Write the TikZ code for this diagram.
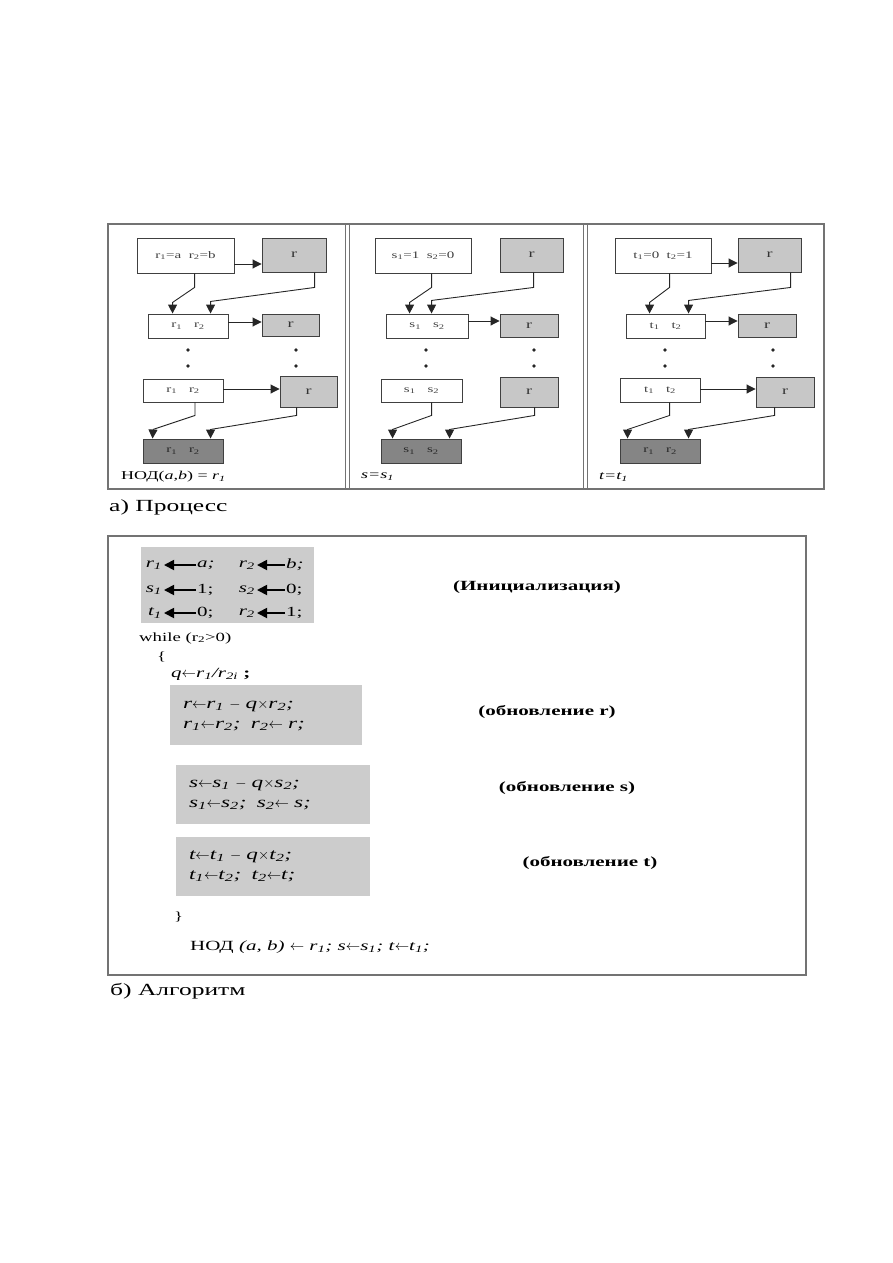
\documentclass[tikz,border=0pt]{standalone}
\usepackage{fontspec}
\setmainfont{Liberation Serif}[FakeStretch=1.5]
\usetikzlibrary{arrows.meta,positioning,calc}
\tikzstyle{valbox} = [rectangle, draw=black!75, line width=0.9pt, fill=white, text=black!75, font=\fontsize{10}{12}\selectfont, inner sep=0pt]
\tikzstyle{rbox} = [rectangle, draw=black!75, line width=0.9pt, fill=black!22, text=black!80, font=\fontsize{12}{14}\selectfont, inner sep=0pt]
\tikzstyle{resbox} = [valbox, fill=black!48, text=black!85]
\tikzstyle{flow} = [-{Triangle[length=9pt,width=9pt]}, line width=0.9pt, black!85]
\tikzstyle{frame} = [draw=black!55, line width=1.6pt]
\tikzstyle{codebox} = [rectangle, fill=black!20, align=left, inner xsep=13pt, font=\fontsize{15.5}{20}\selectfont\itshape]
\tikzstyle{initvar} = [inner sep=1pt, font=\fontsize{14}{16}\selectfont\itshape]
\tikzstyle{initarrow} = [-{Triangle[length=10pt,width=10pt]}, line width=1.8pt, shorten >=1pt]
\tikzstyle{note} = [font=\fontsize{14}{16}\selectfont\bfseries]
\tikzstyle{plain} = [anchor=west, inner sep=0pt, font=\fontsize{12.5}{14}\selectfont]
\tikzstyle{caption} = [anchor=west, inner sep=0pt, font=\fontsize{17}{19}\selectfont]
\tikzstyle{panellabel} = [anchor=west, inner sep=0pt, font=\fontsize{12}{14}\selectfont]
\tikzset{sz/.style 2 args={minimum width=#1pt, minimum height=#2pt}}
\newcommand{\idx}[1]{\textsubscript{#1}}
\newcommand{\lar}{$\leftarrow$}

\begin{document}
\begin{tikzpicture}[x=1pt, y=-1pt]
\useasboundingbox (0,0) rectangle (893,1263);

% ---------- a) process ----------
\draw[frame] (108,224) rectangle (824,489);
\draw[frame, line width=1pt] (345,224) -- (345,489) (349,224) -- (349,489);
\draw[frame, line width=1pt] (583,224) -- (583,489) (587,224) -- (587,489);

% panel r
\node[valbox, sz={97}{35}] (p1init) at (185.5,255.5) {r\idx{1}=a\ \ r\idx{2}=b};
\node[rbox, sz={64}{34}] (p1rA) at (294,255) {r};
\node[valbox, sz={80}{24}] (p1b) at (188,326) {r\idx{1}\hspace{12pt}r\idx{2}};
\node[rbox, sz={57}{22}] (p1rB) at (290.5,325) {r};
\node[valbox, sz={80}{23}] (p1c) at (183,390.5) {r\idx{1}\hspace{12pt}r\idx{2}};
\node[rbox, sz={57}{31}] (p1rC) at (308.5,391.5) {r};
\node[resbox, sz={80}{24}] (p1end) at (183,451) {r\idx{1}\hspace{12pt}r\idx{2}};
\node[panellabel] (p1lab) at (121,477) {НОД(\textit{a,b}) = \textit{r\idx{1}}};

\draw[flow] (p1init.east |- 0,264) -- (p1rA.west |- 0,264);
\draw[flow] (p1b.east |- 0,322) -- (p1rB.west |- 0,322);
\draw[flow] (p1c.east |- 0,389) -- (p1rC.west |- 0,389);
\draw[flow] ([xshift=58pt]p1init.south west) -- ++(0,14) -- ++(-22,15) -- ([xshift=25pt]p1b.north west);
\draw[flow] ([xshift=53pt]p1rA.south west) -- ++(0,15) -- ++(-104,14) -- ([xshift=63pt]p1b.north west);
\draw[flow] ([xshift=12pt]p1c.south) -- ++(0,13) -- ++(-42,14) -- ([xshift=10pt]p1end.north west);
\draw[flow] ([xshift=17pt]p1rC.south west) -- ++(0,8) -- ++(-86,14) -- ([xshift=68pt]p1end.north west);

% panel s
\node[valbox, sz={96}{35}] (p2init) at (423,255.5) {s\idx{1}=1\ \ s\idx{2}=0};
\node[rbox, sz={63}{34}] (p2rA) at (531.5,255) {r};
\node[valbox, sz={82}{24}] (p2b) at (427,326) {s\idx{1}\hspace{12pt}s\idx{2}};
\node[rbox, sz={58}{23}] (p2rB) at (529,325.5) {r};
\node[valbox, sz={81}{23}] (p2c) at (421.5,390.5) {s\idx{1}\hspace{12pt}s\idx{2}};
\node[rbox, sz={58}{30}] (p2rC) at (529,392) {r};
\node[resbox, sz={80}{24}] (p2end) at (421,451) {s\idx{1}\hspace{12pt}s\idx{2}};
\node[panellabel, font=\fontsize{12}{14}\selectfont\itshape] (p2lab) at (361,477) {s=s\idx{1}};

\draw[flow] (p2b.east |- 0,321) -- (p2rB.west |- 0,321);
\draw[flow] ([xshift=57pt]p2init.south west) -- ++(0,14) -- ++(-22,15) -- ([xshift=24pt]p2b.north west);
\draw[flow] ([xshift=34pt]p2rA.south west) -- ++(0,15) -- ++(-102,13) -- ([xshift=46pt]p2b.north west);
\draw[flow] ([xshift=51pt]p2c.south west) -- ++(0,13) -- ++(-39,14) -- ([xshift=12pt]p2end.north west);
\draw[flow] ([xshift=35pt]p2rC.south west) -- ++(0,8) -- ++(-85,14) -- ([xshift=69pt]p2end.north west);

% panel t
\node[valbox, sz={96}{35}] (p3init) at (663,255.5) {t\idx{1}=0\ \ t\idx{2}=1};
\node[rbox, sz={63}{34}] (p3rA) at (769.5,255) {r};
\node[valbox, sz={79}{24}] (p3b) at (665.5,326) {t\idx{1}\hspace{12pt}t\idx{2}};
\node[rbox, sz={58}{23}] (p3rB) at (767,325.5) {r};
\node[valbox, sz={80}{24}] (p3c) at (660,390) {t\idx{1}\hspace{12pt}t\idx{2}};
\node[rbox, sz={58}{30}] (p3rC) at (785,392) {r};
\node[resbox, sz={80}{24}] (p3end) at (660,451) {r\idx{1}\hspace{12pt}r\idx{2}};
\node[panellabel, font=\fontsize{12}{14}\selectfont\itshape] (p3lab) at (599,477) {t=t\idx{1}};

\draw[flow] (p3init.east |- 0,263) -- (p3rA.west |- 0,263);
\draw[flow] (p3b.east |- 0,321) -- (p3rB.west |- 0,321);
\draw[flow] (p3c.east |- 0,389) -- (p3rC.west |- 0,389);
\draw[flow] ([xshift=55pt]p3init.south west) -- ++(0,14) -- ++(-20,15) -- ([xshift=24pt]p3b.north west);
\draw[flow] ([xshift=53pt]p3rA.south west) -- ++(0,15) -- ++(-102,13) -- ([xshift=63pt]p3b.north west);
\draw[flow] ([xshift=50pt]p3c.south west) -- ++(0,13) -- ++(-42,14) -- ([xshift=8pt]p3end.north west);
\draw[flow] ([xshift=19pt]p3rC.south west) -- ++(0,8) -- ++(-86,14) -- ([xshift=69pt]p3end.north west);

% dots between rows
\foreach \x in {188,296,426,534,665,773}
  \foreach \y in {350,366}
    \fill[black!85] (\x,\y) circle (1.8pt);

\node[caption] (capA) at (109,507) {а) Процесс};

% ---------- b) algorithm ----------
\draw[frame] (108,536) rectangle (806,975);

% initialisation
\node[rectangle, fill=black!20, sz={173}{76}] (init) at (227.5,585) {};
\foreach \y/\la/\ra/\lb/\rb [count=\i] in {565/{r\idx{1}}/{a;}/{r\idx{2}}/{b;}, 590/{s\idx{1}}/{\upshape 1;}/{s\idx{2}}/{\upshape 0;}, 613/{t\idx{1}}/{\upshape 0;}/{r\idx{2}}/{\upshape 1;}}{
  \node[initvar, anchor=east] (ia\i) at (163,\y) {\la};
  \node[initvar, anchor=west] (va\i) at (196,\y) {\ra};
  \node[initvar, anchor=east] (ib\i) at (256,\y) {\lb};
  \node[initvar, anchor=west] (vb\i) at (285,\y) {\rb};
  \draw[initarrow] (va\i.west) -- (ia\i.east);
  \draw[initarrow] (vb\i.west) -- (ib\i.east);
}
\node[note] (ninit) at (537,587) {(Инициализация)};

\node[plain] (loop) at (139,638) {while (r\idx{2}>0)};
\node[plain] (open) at (157,657) {\{};
\node[plain, font=\fontsize{14}{16}\selectfont] (quot) at (171,674) {\textit{q}\lar\textit{r\idx{1}/r\idx{2i}} \textbf{;}};

% update blocks
\node[codebox, text width=166pt, sz={192}{60}] (updr) at (266,715) {r\lar r\idx{1}\ $-$\ q$\times$r\idx{2};\\ r\idx{1}\lar r\idx{2};\ \ r\idx{2}\lar\ r;};
\node[note] (nr) at (547,712) {(обновление r)};
\node[codebox, text width=168pt, sz={194}{59}] (upds) at (273,794.5) {s\lar s\idx{1}\ $-$\ q$\times$s\idx{2};\\ s\idx{1}\lar s\idx{2};\ \ s\idx{2}\lar\ s;};
\node[note] (ns) at (567,788) {(обновление s)};
\node[codebox, text width=168pt, sz={194}{59}] (updt) at (273,866.5) {t\lar t\idx{1}\ $-$\ q$\times$t\idx{2};\\ t\idx{1}\lar t\idx{2};\ \ t\idx{2}\lar t;};
\node[note] (nt) at (590,863) {(обновление t)};

\node[plain] (close) at (174,917) {\}};
\node[plain, font=\fontsize{14}{16}\selectfont] (result) at (190,947) {НОД \textit{(a, b)} \lar\ \textit{r\idx{1};} \textit{s}\lar\textit{s\idx{1};} \textit{t}\lar\textit{t\idx{1};}};

\node[caption] (capB) at (110,991) {б) Алгоритм};

\end{tikzpicture}
\end{document}
